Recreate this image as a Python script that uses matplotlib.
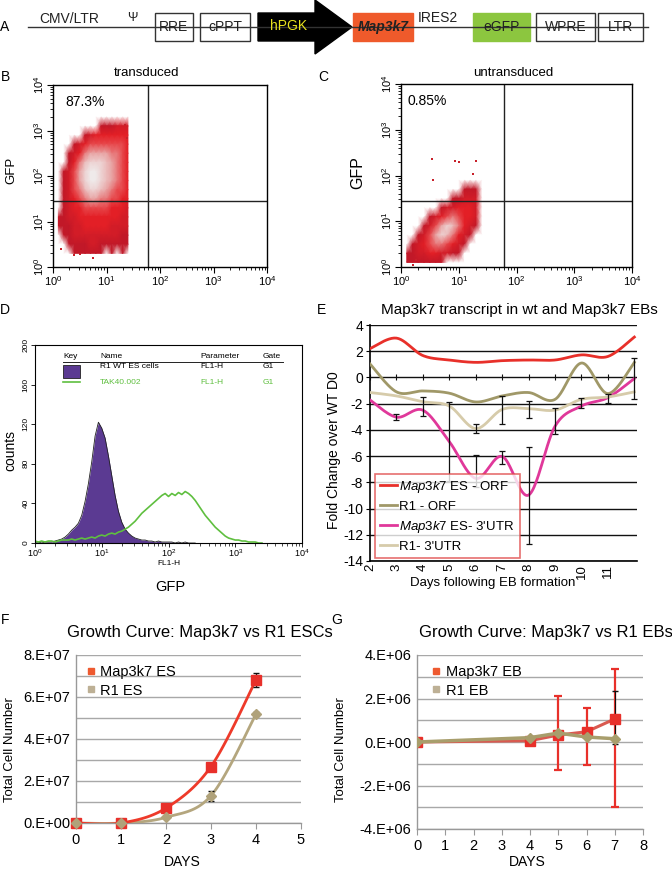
import numpy as np
import matplotlib
matplotlib.use("Agg")
import matplotlib.pyplot as plt
from matplotlib.colors import LinearSegmentedColormap
from matplotlib.lines import Line2D
from matplotlib.patches import Rectangle, Polygon

plt.rcParams['font.family'] = ['Liberation Sans', 'DejaVu Sans']
plt.rcParams['mathtext.fontset'] = 'custom'
plt.rcParams['mathtext.rm'] = 'Liberation Sans'
plt.rcParams['mathtext.it'] = 'Liberation Sans:italic'
plt.rcParams['mathtext.bf'] = 'Liberation Sans:bold'

# ---- A: vector map (pixel spans of the elements) ----
vec_names = ['RRE', 'cPPT', 'hPGK', 'Map3k7', 'eGFP', 'WPRE', 'LTR']
vec_start = [155, 200, 258, 353, 473, 536, 598]
vec_end = [193, 250, 352, 413, 530, 595, 643]
vec_fill = ['white', 'white', 'black', '#ef5a2b', '#8cc63f', 'white', 'white']
vec_text = ['#222222', '#222222', '#e8e21e', '#222222', '#222222', '#222222', '#222222']

# ---- B / C: flow dot plots, density on a log10 grid ----
b_xc = [0.1, 0.2, 0.3, 0.4, 0.5, 0.6, 0.7, 0.8, 0.9, 1.0, 1.1, 1.2, 1.3, 1.4]
b_yc = [3.3, 3.1, 2.9, 2.7, 2.5, 2.3, 2.1, 1.9, 1.7, 1.5, 1.3, 1.1, 0.9, 0.7, 0.5, 0.3]
b_density = [
    [0, 0, 0, 0, 0, 0, 0, 0, 0, 0, 0, 0, 0, 0],
    [0, 0, 0, 0, 0, 0, 0, 0, 1, 1, 1, 2, 2, 2],
    [0, 0, 0, 0, 0, 1, 2, 3, 3, 3, 3, 3, 3, 3],
    [0, 0, 0, 1, 2, 3, 4, 4, 4, 4, 4, 4, 4, 3],
    [0, 0, 1, 2, 3, 5, 6, 6, 6, 6, 5, 5, 4, 3],
    [0, 0, 1, 3, 5, 7, 8, 8, 8, 7, 6, 5, 4, 3],
    [0, 1, 2, 4, 6, 8, 9, 9, 8, 7, 6, 5, 4, 3],
    [0, 1, 2, 4, 6, 8, 9, 9, 8, 7, 6, 5, 4, 3],
    [0, 1, 2, 4, 5, 7, 8, 8, 7, 6, 5, 4, 4, 3],
    [0, 1, 2, 3, 4, 5, 6, 6, 5, 5, 4, 4, 3, 3],
    [0, 1, 2, 3, 3, 4, 4, 4, 4, 4, 3, 3, 3, 2],
    [1, 1, 2, 2, 3, 3, 3, 3, 3, 3, 3, 3, 2, 2],
    [1, 1, 1, 2, 2, 3, 3, 3, 3, 3, 2, 2, 2, 2],
    [0, 1, 1, 2, 2, 2, 2, 2, 2, 2, 2, 2, 1, 1],
    [0, 0, 1, 1, 1, 1, 2, 2, 1, 1, 1, 1, 1, 1],
    [0, 0, 0, 1, 1, 1, 1, 1, 1, 0, 1, 0, 1, 0],
]
b_out_x = [22, 24, 2.5, 3.2, 5.5, 1.4]
b_out_y = [1300, 700, 1.8, 1.9, 1.6, 2.5]
c_xc = [0.1, 0.2, 0.3, 0.4, 0.5, 0.6, 0.7, 0.8, 0.9, 1.0, 1.1, 1.2, 1.3, 1.4]
c_yc = [1.9, 1.7, 1.5, 1.3, 1.1, 0.9, 0.7, 0.5, 0.3, 0.1]
c_density = [
    [0, 0, 0, 0, 0, 0, 0, 0, 0, 0, 0, 0, 0, 0],
    [0, 0, 0, 0, 0, 0, 0, 0, 0, 0, 1, 1, 1, 0],
    [0, 0, 0, 0, 0, 0, 0, 0, 1, 1, 2, 2, 2, 0],
    [0, 0, 0, 0, 0, 0, 1, 2, 2, 3, 3, 3, 2, 0],
    [0, 0, 0, 0, 1, 2, 3, 4, 5, 4, 3, 3, 2, 0],
    [0, 0, 0, 1, 2, 4, 6, 8, 7, 5, 3, 2, 1, 0],
    [0, 0, 1, 2, 4, 6, 8, 7, 5, 3, 2, 1, 0, 0],
    [0, 1, 2, 3, 4, 5, 5, 4, 3, 2, 1, 0, 0, 0],
    [1, 1, 2, 2, 3, 3, 2, 2, 1, 1, 0, 0, 0, 0],
    [1, 1, 1, 1, 1, 1, 1, 0, 0, 0, 0, 0, 0, 0],
]
c_out_x = [3.5, 8.5, 10, 20, 3.6, 18, 1.8, 1.6]
c_out_y = [230, 210, 200, 210, 80, 110, 1.4, 1.1]
gate_x = 60
gate_y = 28
pct_b = '87.3%'
pct_c = '0.85%'

# ---- D: GFP histograms (log10 FL1-H bins, step 0.05) ----
wt_log = [0.00, 0.05, 0.10, 0.15, 0.20, 0.25, 0.30, 0.35, 0.40, 0.45,
          0.50, 0.55, 0.60, 0.65, 0.70, 0.75, 0.80, 0.85, 0.90, 0.95,
          1.00, 1.05, 1.10, 1.15, 1.20, 1.25, 1.30, 1.35, 1.40, 1.45,
          1.50, 1.55, 1.60, 1.65, 1.70, 1.75, 1.80, 1.85, 1.90, 1.95,
          2.00, 2.05, 2.10, 2.15, 2.20, 2.25, 2.30, 2.35, 2.40]
wt_counts = [1, 1, 0, 1, 1, 1, 2, 3, 4, 6,
             9, 13, 16, 20, 28, 42, 60, 82, 108, 122,
             116, 106, 88, 68, 48, 32, 21, 14, 10, 7,
             5, 4, 3, 3, 2, 2, 1, 2, 1, 1,
             1, 1, 0, 1, 0, 1, 0, 0, 0]
tak_log = [0.00, 0.05, 0.10, 0.15, 0.20, 0.25, 0.30, 0.35, 0.40, 0.45,
           0.50, 0.55, 0.60, 0.65, 0.70, 0.75, 0.80, 0.85, 0.90, 0.95,
           1.00, 1.05, 1.10, 1.15, 1.20, 1.25, 1.30, 1.35, 1.40, 1.45,
           1.50, 1.55, 1.60, 1.65, 1.70, 1.75, 1.80, 1.85, 1.90, 1.95,
           2.00, 2.05, 2.10, 2.15, 2.20, 2.25, 2.30, 2.35, 2.40, 2.45,
           2.50, 2.55, 2.60, 2.65, 2.70, 2.75, 2.80, 2.85, 2.90, 2.95,
           3.00, 3.05, 3.10, 3.15, 3.20, 3.25, 3.30, 3.35, 3.40]
tak_counts = [2, 1, 2, 1, 2, 2, 1, 2, 3, 3,
              3, 4, 3, 4, 5, 4, 5, 6, 5, 7,
              8, 7, 9, 10, 9, 11, 12, 14, 16, 19,
              22, 26, 30, 33, 36, 39, 42, 45, 48, 50,
              47, 50, 48, 51, 49, 52, 50, 47, 43, 38,
              33, 28, 24, 20, 16, 13, 10, 7, 5, 4,
              3, 3, 2, 2, 1, 1, 1, 0, 0]

# ---- E: qPCR fold change ----
e_day_labels = ['2', '3', '4', '5', '6', '7', '8', '9', '10', '11']
e_idx = [0, 1, 2, 3, 4, 5, 6, 7, 8, 9, 10]
es_orf = [2.2, 3.0, 1.67, 1.33, 1.15, 1.28, 1.33, 1.33, 1.72, 1.6, 3.08]
r1_orf = [1.03, -1.1, -1.03, -1.2, -1.87, -1.41, -1.15, -1.67, 1.1, -1.23, 1.15]
es_utr = [-1.72, -3.03, -2.5, -4.9, -7.7, -6.03, -8.97, -3.72, -2.18, -1.54, -0.08]
r1_utr = [-1.15, -1.41, -1.85, -2.18, -3.9, -2.44, -2.38, -2.49, -1.67, -1.49, -1.1]
e_err_idx = [1, 2, 3, 4, 4, 5, 5, 6, 6, 7, 8, 9, 10]
e_err_lo = [-3.21, -2.95, -7.87, -4.23, -8.33, -3.54, -6.6, -3.13, -12.7, -4.31, -2.31, -1.92, -1.67]
e_err_hi = [-2.82, -1.49, -1.87, -3.54, -5.95, -1.41, -5.59, -1.79, -5.33, -2.36, -1.54, -1.28, 1.46]

# ---- F: ESC growth ----
f_days = [0, 1, 2, 3, 4]
f_map3k7 = [0.0, 0.0, 0.71e7, 2.69e7, 6.81e7]
f_map3k7_err = [0, 0, 0, 0.05e7, 0.33e7]
f_r1 = [0.0, 0.0, 0.27e7, 1.3e7, 5.18e7]
f_r1_err = [0, 0, 0, 0.24e7, 0.1e7]
f_ytick_labels = ['0.E+00', '2.E+07', '4.E+07', '6.E+07', '8.E+07']

# ---- G: EB growth ----
g_days = [0, 4, 5, 6, 7]
g_map3k7 = [0.0, 0.06e6, 0.32e6, 0.47e6, 1.06e6]
g_map3k7_lo = [0.0, 0.06e6, -1.3e6, -1.07e6, -3.0e6]
g_map3k7_hi = [0.0, 0.06e6, 2.11e6, 1.56e6, 3.36e6]
g_r1 = [0.0, 0.2e6, 0.41e6, 0.23e6, 0.15e6]
g_r1_lo = [0.0, 0.2e6, 0.41e6, 0.23e6, -0.1e6]
g_r1_hi = [0.0, 0.2e6, 0.41e6, 0.23e6, 2.34e6]
g_ytick_labels = ['-4.E+06', '-2.E+06', '0.E+00', '2.E+06', '4.E+06']

W, H = 672, 869
fig = plt.figure(figsize=(W / 100, H / 100), dpi=100)


def px_axes(l, t, r, b):
    return fig.add_axes([l / W, 1 - b / H, (r - l) / W, (b - t) / H])


def ftext(x, y, s, **kw):
    kw.setdefault('ha', 'center')
    kw.setdefault('va', 'center')
    fig.text(x / W, 1 - y / H, s, **kw)


def smooth(x, y, n=24):
    # Catmull-Rom curve through the points (Excel-like smoothed line)
    pts = np.column_stack([np.asarray(x, float), np.asarray(y, float)])
    P = np.vstack([pts[0], pts, pts[-1]])
    t = np.linspace(0, 1, n, endpoint=False)[:, None]
    segs = []
    for i in range(len(pts) - 1):
        p0, p1, p2, p3 = P[i], P[i + 1], P[i + 2], P[i + 3]
        segs.append(0.5 * (2 * p1 + (-p0 + p2) * t + (2 * p0 - 5 * p1 + 4 * p2 - p3) * t ** 2
                           + (-p0 + 3 * p1 - 3 * p2 + p3) * t ** 3))
    segs.append(pts[-1:])
    out = np.vstack(segs)
    return out[:, 0], out[:, 1]


# panel letters
for lab, x, y in [('A', 5, 27), ('B', 5, 77), ('C', 323, 77), ('D', 5, 310),
                  ('E', 322, 310), ('F', 5, 620), ('G', 337, 620)]:
    ftext(x, y, lab, fontsize=10)

# ===== A =====
axA = px_axes(0, 0, 672, 65)
axA.set_xlim(0, 672)
axA.set_ylim(65, 0)
axA.axis('off')
axA.plot([28, 648], [27, 27], color='#333333', lw=1)
for name, x0, x1, fc, tc in zip(vec_names, vec_start, vec_end, vec_fill, vec_text):
    if name == 'hPGK':
        body = x1 - 37
        axA.add_patch(Polygon([(x0, 13), (body, 13), (body, 0), (x1, 27), (body, 54),
                               (body, 41), (x0, 41)], closed=True, fc=fc, ec=fc))
        axA.text((x0 + body) / 2 + 2, 26, name, color=tc, fontsize=10, ha='center', va='center')
    else:
        ec = fc if fc != 'white' else '#333333'
        axA.add_patch(Rectangle((x0, 13), x1 - x0, 28, fc=fc, ec=ec, lw=1))
        if name == 'Map3k7':
            axA.text((x0 + x1) / 2, 27, name, color=tc, fontsize=10, ha='center', va='center',
                     fontweight='bold', style='italic')
        else:
            axA.text((x0 + x1) / 2, 27, name, color=tc, fontsize=10, ha='center', va='center')
axA.text(69, 19, 'CMV/LTR', fontsize=10, ha='center', va='center', color='#222222')
axA.text(132, 18, 'Ψ', fontsize=9, ha='center', va='center', color='#222222')
axA.text(438, 18, 'IRES2', fontsize=10, ha='center', va='center', color='#222222')

# ===== B / C =====
flow_cmap = LinearSegmentedColormap.from_list(
    'flow', [(0, 'white'), (0.1, '#c01828'), (0.35, '#e62026'), (0.65, '#e8a0a0'), (1.0, '#efeaea')])


def flow_panel(ax, xc, yc, dens, out_x, out_y, pct, pct_x):
    Z = np.array(dens, float)
    ax.pcolormesh(10 ** np.array(xc), 10 ** np.array(yc), Z, shading='gouraud',
                  cmap=flow_cmap, vmin=0, vmax=9)
    ax.scatter(out_x, out_y, s=3, marker='s', color='#c8202a', lw=0)
    ax.set_xscale('log')
    ax.set_yscale('log')
    ax.set_xlim(1, 1e4)
    ax.set_ylim(1, 1e4)
    ax.axvline(gate_x, color='#222222', lw=1)
    ax.axhline(gate_y, color='#222222', lw=1)
    ticks = [1, 10, 100, 1000, 10000]
    labs = [r'$10^{0}$', r'$10^{1}$', r'$10^{2}$', r'$10^{3}$', r'$10^{4}$']
    ax.set_xticks(ticks, labs, fontsize=8)
    ax.set_yticks(ticks, labs, fontsize=8, rotation=90, va='center')
    ax.tick_params(which='major', direction='out', length=4, width=0.8)
    ax.tick_params(which='minor', direction='out', length=2, width=0.6)
    ax.tick_params(axis='x', pad=1)
    ax.tick_params(axis='y', pad=1)
    for s in ax.spines.values():
        s.set_linewidth(1)
    ax.text(pct_x, 0.905, pct, transform=ax.transAxes, fontsize=10, va='center')


axB = px_axes(53, 85, 267, 267)
flow_panel(axB, b_xc, b_yc, b_density, b_out_x, b_out_y, pct_b, 0.06)
ftext(147, 73, 'transduced', fontsize=9.5)
ftext(11, 170, 'GFP', fontsize=9.5, rotation=90)

axC = px_axes(401, 84, 632, 267)
flow_panel(axC, c_xc, c_yc, c_density, c_out_x, c_out_y, pct_c, 0.03)
ftext(513, 73, 'untransduced', fontsize=9.5)
ftext(358, 173, 'GFP', fontsize=11.5, rotation=90)

# ===== D =====
axD = px_axes(35, 345, 302, 543)
axD.fill_between(10 ** np.array(wt_log), wt_counts, color='#5b3a92', lw=0)
axD.plot(10 ** np.array(wt_log), wt_counts, color='#222222', lw=0.6)
axD.plot(10 ** np.array(tak_log), tak_counts, color='#5fbf3f', lw=1.2)
axD.set_xscale('log')
axD.set_xlim(1, 1e4)
axD.set_ylim(0, 200)
axD.set_xticks([1, 10, 100, 1000, 10000],
               [r'$10^{0}$', r'$10^{1}$', r'$10^{2}$', r'$10^{3}$', r'$10^{4}$'], fontsize=6.5)
axD.set_yticks([0, 40, 80, 120, 160, 200], ['0', '40', '80', '120', '160', '200'],
               fontsize=6, rotation=90, va='center')
axD.tick_params(which='major', direction='out', length=3, width=0.6, pad=1)
axD.tick_params(axis='x', pad=0)
axD.tick_params(which='minor', direction='out', length=2, width=0.5)
for s in axD.spines.values():
    s.set_linewidth(0.8)
axD.text(0.5, -0.105, 'FL1-H', transform=axD.transAxes, fontsize=6, ha='center', va='center')
for txt, xx in [('Key', 0.105), ('Name', 0.243), ('Parameter', 0.618), ('Gate', 0.854)]:
    axD.text(xx, 0.94, txt, transform=axD.transAxes, fontsize=6, va='center')
axD.plot([0.105, 0.93], [0.915, 0.915], transform=axD.transAxes, color='#222222', lw=0.7)
axD.add_patch(Rectangle((0.105, 0.833), 0.063, 0.065, transform=axD.transAxes,
                        fc='#5b3a92', ec='#222222', lw=0.6))
for txt, xx in [('R1 WT ES cells', 0.243), ('FL1-H', 0.618), ('G1', 0.854)]:
    axD.text(xx, 0.889, txt, transform=axD.transAxes, fontsize=6, va='center')
axD.plot([0.105, 0.17], [0.813, 0.813], transform=axD.transAxes, color='#5fbf3f', lw=1.2)
for txt, xx in [('TAK40.002', 0.243), ('FL1-H', 0.618), ('G1', 0.854)]:
    axD.text(xx, 0.813, txt, transform=axD.transAxes, fontsize=6, va='center', color='#5fbf3f')
ftext(10, 450, 'counts', fontsize=10, rotation=90)
ftext(170, 587, 'GFP', fontsize=10.5)

# ===== E =====
axE = px_axes(370, 325, 637, 561)
e_cols = ['#e8302a', '#a09868', '#e0389a', '#d6cbaa']
e_series = [es_orf, r1_orf, es_utr, r1_utr]
e_labels = [r'$\mathit{Map3k7}$ ES - ORF', 'R1 - ORF', r"$\mathit{Map3k7}$ ES- 3'UTR", "R1- 3'UTR"]
for ys, col in zip(e_series, e_cols):
    sx, sy = smooth(e_idx, ys)
    axE.plot(sx, sy, color=col, lw=2, zorder=3)
e_lo = np.array(e_err_lo)
e_hi = np.array(e_err_hi)
e_mid = (e_lo + e_hi) / 2
axE.errorbar(e_err_idx, e_mid, yerr=(e_hi - e_lo) / 2, fmt='none', ecolor='#111111',
             elinewidth=0.9, capsize=2, capthick=0.9, zorder=4)
axE.plot(e_idx, np.zeros(len(e_idx)), ls='none', marker='|', ms=4, mew=0.8, color='#111111')
axE.set_xlim(0, 10.1)
axE.set_ylim(-14, 4)
axE.set_yticks(range(-14, 5, 2), [str(v) for v in range(-14, 5, 2)], fontsize=10)
axE.set_xticks(range(10), e_day_labels, fontsize=9.5, rotation=90)
axE.tick_params(axis='x', length=0, pad=2)
axE.tick_params(axis='y', length=3, pad=2)
axE.yaxis.grid(True, color='#111111', lw=1)
axE.set_axisbelow(True)
for side in ['top', 'right']:
    axE.spines[side].set_visible(False)
axE.spines['left'].set_linewidth(1.2)
axE.spines['bottom'].set_linewidth(1.2)
handles = [Line2D([], [], color=c, lw=2) for c in e_cols]
leg = axE.legend(handles, e_labels, loc='lower left', bbox_to_anchor=(0.008, 0.0),
                 fontsize=9.5, frameon=True, fancybox=False, handlelength=1.3,
                 handletextpad=0.15, labelspacing=0.45, borderpad=0.4, borderaxespad=0.2)
leg.get_frame().set_edgecolor('#e04c4c')
leg.get_frame().set_linewidth(1.2)
leg.set_zorder(5)
ftext(519, 310, 'Map3k7 transcript in wt and Map3k7 EBs', fontsize=11)
ftext(493, 583, 'Days following EB formation', fontsize=9.5)
ftext(334, 450, 'Fold Change over WT D0', fontsize=10, rotation=90)


# ===== F / G =====
def growth_axes(ax, xmax, ylo, yhi, step, tick_labels):
    ax.set_xlim(0, xmax)
    ax.set_ylim(ylo, yhi)
    ax.set_xticks(range(xmax + 1), [str(v) for v in range(xmax + 1)], fontsize=10.5)
    ax.set_yticks(np.linspace(ylo, yhi, len(tick_labels)), tick_labels, fontsize=10.5)
    ax.set_yticks(np.arange(ylo, yhi + step / 2, step), minor=True)
    ax.yaxis.grid(True, which='both', color='#a8a8a8', lw=1)
    ax.set_axisbelow(True)
    ax.tick_params(axis='y', which='both', length=0, pad=4)
    ax.tick_params(axis='x', length=4, color='#999999', pad=3)
    for side in ['top', 'right']:
        ax.spines[side].set_visible(False)
    for side in ['left', 'bottom']:
        ax.spines[side].set_color('#999999')
        ax.spines[side].set_linewidth(1)


axF = px_axes(76, 655, 301, 823)
growth_axes(axF, 5, 0, 8e7, 1e7, f_ytick_labels)
sx, sy = smooth(f_days, f_r1)
axF.plot(sx, sy, color='#b4a67e', lw=2, zorder=3)
sx, sy = smooth(f_days, f_map3k7)
axF.plot(sx, sy, color='#ee3a2a', lw=2, zorder=3)
axF.errorbar(f_days, f_map3k7, yerr=f_map3k7_err, fmt='none', ecolor='#111111',
             elinewidth=1, capsize=2.5, zorder=4)
axF.errorbar(f_days, f_r1, yerr=f_r1_err, fmt='none', ecolor='#111111',
             elinewidth=1, capsize=2.5, zorder=4)
axF.plot(f_days, f_map3k7, 's', color='#e8302a', ms=7, zorder=5, clip_on=False)
axF.plot(f_days, f_r1, 'D', color='#b0a27a', ms=5, zorder=5, clip_on=False)
axF.legend([Line2D([], [], marker='s', ls='none', color='#ee5a30', ms=5),
            Line2D([], [], marker='s', ls='none', color='#bdb095', ms=5)],
           ['Map3k7 ES', 'R1 ES'], loc='upper left', bbox_to_anchor=(0.0, 1.0),
           frameon=False, fontsize=10.5, handlelength=0.6, handletextpad=0.35,
           labelspacing=0.3, borderaxespad=0.3)
ftext(200, 633, 'Growth Curve: Map3k7 vs R1 ESCs', fontsize=12)
ftext(10, 750, 'Total Cell Number', fontsize=9.5, rotation=90)
ftext(182, 862, 'DAYS', fontsize=10)

axG = px_axes(417, 655, 643, 829)
growth_axes(axG, 8, -4e6, 4e6, 1e6, g_ytick_labels)
g_mid = np.array(g_map3k7)
axG.errorbar(g_days, g_mid, yerr=[g_mid - np.array(g_map3k7_lo), np.array(g_map3k7_hi) - g_mid],
             fmt='none', ecolor='#e8302a', elinewidth=1.6, capsize=3, capthick=1.6, zorder=3)
r_mid = np.array(g_r1)
axG.errorbar(g_days, r_mid, yerr=[r_mid - np.array(g_r1_lo), np.array(g_r1_hi) - r_mid],
             fmt='none', ecolor='#111111', elinewidth=0.8, capsize=2, zorder=3)
axG.plot(g_days, g_map3k7, '-s', color='#d95a50', mfc='#e8302a', mec='#e8302a', ms=7,
         lw=2.2, zorder=4)
axG.plot(g_days, g_r1, '-D', color='#a89e6c', ms=5, lw=2.5, zorder=5)
axG.legend([Line2D([], [], marker='s', ls='none', color='#ee5a30', ms=5),
            Line2D([], [], marker='s', ls='none', color='#bdb095', ms=5)],
           ['Map3k7 EB', 'R1 EB'], loc='upper left', bbox_to_anchor=(0.02, 1.0),
           frameon=False, fontsize=10.5, handlelength=0.6, handletextpad=0.35,
           labelspacing=0.3, borderaxespad=0.3)
ftext(546, 633, 'Growth Curve: Map3k7 vs R1 EBs', fontsize=12)
ftext(341, 750, 'Total Cell Number', fontsize=9.5, rotation=90)
ftext(527, 862, 'DAYS', fontsize=10)

fig.savefig('out.png', dpi=100)
